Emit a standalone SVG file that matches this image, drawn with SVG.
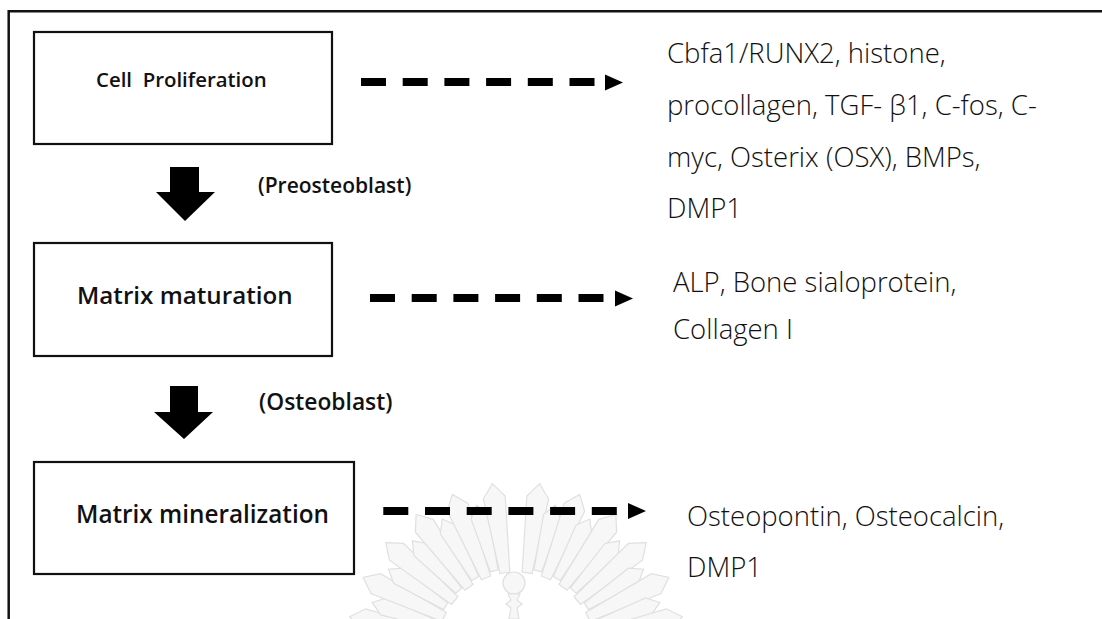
<svg xmlns="http://www.w3.org/2000/svg" width="1102" height="619" viewBox="0 0 1102 619">
<style>
  .box{fill:#fff;stroke:#111;stroke-width:2.2}
  .lbl{font-family:"Open Sans","Noto Sans",sans-serif;font-weight:600;fill:#111}
  .gene{font-family:"Open Sans","Noto Sans",sans-serif;font-weight:350;font-size:27.5px;fill:#111}
  .dash{stroke:#000;stroke-width:8;stroke-dasharray:25 16.7;fill:none}
  .head{fill:#000}
  .wm{fill:#f7f7f7;stroke:#e0e0e0;stroke-width:1.2}
</style>
<defs>
  <polygon id="rayL" points="-5,-80 5,-80 11,-156 0,-170 -11,-156"/>
  <polygon id="rayS" points="-4,-84 4,-84 9,-140 0,-152 -9,-140"/>
</defs>
<rect width="1102" height="619" fill="#fff"/>

<g id="watermark">
  <g class="wm" transform="translate(516,652)">
    <use href="#rayL" transform="rotate(-78)"/>
    <use href="#rayS" transform="rotate(-71)"/>
    <use href="#rayL" transform="rotate(-64)"/>
    <use href="#rayS" transform="rotate(-57)"/>
    <use href="#rayL" transform="rotate(-50)"/>
    <use href="#rayS" transform="rotate(-43)"/>
    <use href="#rayL" transform="rotate(-36)"/>
    <use href="#rayS" transform="rotate(-29)"/>
    <use href="#rayL" transform="rotate(-22)"/>
    <use href="#rayS" transform="rotate(-15)"/>
    <use href="#rayL" transform="rotate(-8)"/>
    <use href="#rayL" transform="rotate(8)"/>
    <use href="#rayS" transform="rotate(15)"/>
    <use href="#rayL" transform="rotate(22)"/>
    <use href="#rayS" transform="rotate(29)"/>
    <use href="#rayL" transform="rotate(36)"/>
    <use href="#rayS" transform="rotate(43)"/>
    <use href="#rayL" transform="rotate(50)"/>
    <use href="#rayS" transform="rotate(57)"/>
    <use href="#rayL" transform="rotate(64)"/>
    <use href="#rayS" transform="rotate(71)"/>
    <use href="#rayL" transform="rotate(78)"/>
  </g>
  <circle class="wm" cx="514" cy="583" r="11"/>
  <path class="wm" d="M508,594 L520,594 L517,600 L522,604 L517,608 L519,619 L509,619 L511,608 L506,604 L511,600 Z"/>
</g>

<g id="frame">
  <path d="M8.7,619 L8.7,11.3 L1102,11.3" fill="none" stroke="#111" stroke-width="2.5"/>
</g>

<g id="connectors">
  <polygon id="down1" points="170,167 199,167 199,192 215,192 185,221 156,192 170,192"/>
  <polygon id="down2" points="170,386 198,386 198,412 213,412 184,439 154,412 170,412"/>
  <line class="dash" x1="361" y1="82" x2="594.5" y2="82"/>
  <polygon class="head" points="605,74.5 623,82.5 605,90.5"/>
  <line class="dash" x1="370" y1="298" x2="603.5" y2="298"/>
  <polygon class="head" points="615,290.5 633,298.5 615,306.5"/>
  <line class="dash" x1="383.3" y1="511" x2="617.8" y2="511"/>
  <polygon class="head" points="628,503 646,511 628,519"/>
</g>

<g id="node-proliferation">
  <rect class="box" x="34" y="32" width="298" height="112"/>
  <text class="lbl" x="96" y="87" font-size="20.4" xml:space="preserve">Cell  Proliferation</text>
</g>
<g id="label-preosteoblast">
  <text class="lbl" x="258" y="193" font-size="21">(Preosteoblast)</text>
</g>
<g id="node-maturation">
  <rect class="box" x="34" y="243" width="298" height="113"/>
  <text class="lbl" x="77" y="304" font-size="24.2">Matrix maturation</text>
</g>
<g id="label-osteoblast">
  <text class="lbl" x="259" y="410" font-size="22.8">(Osteoblast)</text>
</g>
<g id="node-mineralization">
  <rect class="box" x="34" y="462" width="320" height="112"/>
  <text class="lbl" x="76" y="523" font-size="24.3">Matrix mineralization</text>
</g>

<g id="genes-proliferation">
  <text class="gene" x="667" y="63">Cbfa1/RUNX2, histone,</text>
  <text class="gene" x="667" y="115">procollagen, TGF- β1, C-fos, C-</text>
  <text class="gene" x="667" y="167">myc, Osterix (OSX), BMPs,</text>
  <text class="gene" x="667" y="218">DMP1</text>
</g>
<g id="genes-maturation">
  <text class="gene" x="673" y="292">ALP, Bone sialoprotein,</text>
  <text class="gene" x="673" y="338.5">Collagen I</text>
</g>
<g id="genes-mineralization">
  <text class="gene" x="687" y="526">Osteopontin, Osteocalcin,</text>
  <text class="gene" x="687" y="577">DMP1</text>
</g>
</svg>
